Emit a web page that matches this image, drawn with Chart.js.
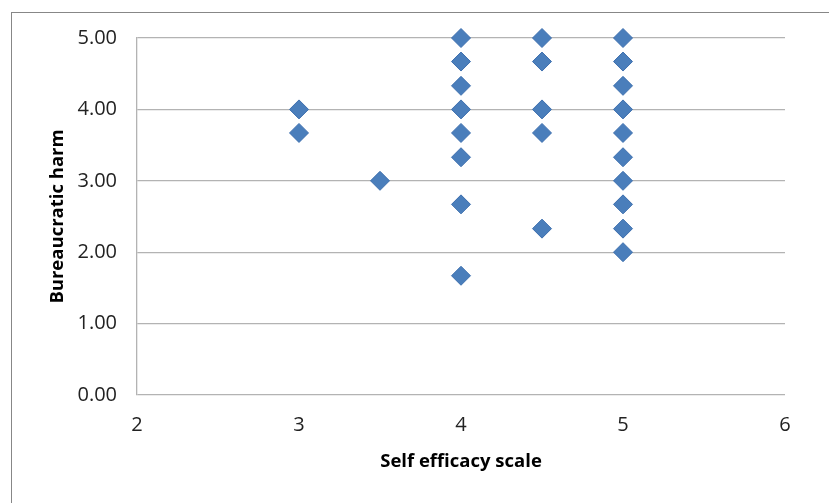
<!DOCTYPE html>
<html>
<head>
<meta charset="utf-8">
<script src="https://cdn.jsdelivr.net/npm/chart.js@4.4.0/dist/chart.umd.min.js"></script>
<style>
  html, body { margin: 0; padding: 0; background: #fff; overflow: hidden; }
  #wrap { position: relative; width: 829px; height: 503px; }
  #frame { position: absolute; left: 11px; top: 12px; width: 900px; height: 600px; border: 1px solid #878787; box-sizing: border-box; }
  canvas { position: absolute; left: 0; top: 0; }
</style>
</head>
<body>
<div id="wrap">
  <div id="frame"></div>
  <canvas id="myChart" width="829" height="503"></canvas>
</div>
<script>
// scatter values
const efficacy = [3, 3, 3.5, 4, 4, 4, 4, 4, 4, 4, 4, 4.5, 4.5, 4.5, 4.5, 4.5, 5, 5, 5, 5, 5, 5, 5, 5, 5, 5];
const harm = [4.00, 3.67, 3.00, 5.00, 4.67, 4.33, 4.00, 3.67, 3.33, 2.67, 1.67, 5.00, 4.67, 4.00, 3.67, 2.33,
  5.00, 4.67, 4.33, 4.00, 3.67, 3.33, 3.00, 2.67, 2.33, 2.00];
const xTicks = [2, 3, 4, 5, 6];
const yTicks = [0, 1, 2, 3, 4, 5];

const points = efficacy.map((x, i) => ({ x: x, y: harm[i] }));

const tickFont = { family: "Open Sans", size: 20 };
const titleFont = { family: "Open Sans", size: 18.5, weight: "bold" };

const ctx = document.getElementById("myChart");

new Chart(ctx, {
  type: "scatter",
  data: {
    datasets: [
      {
        label: "Bureaucratic harm",
        data: points,
        clip: false,
        pointStyle: "rectRot",
        pointRadius: 9.5,
        pointHoverRadius: 9.5,
        backgroundColor: "#4a7ebb",
        borderColor: "#3d6fae",
        borderWidth: 1,
      },
    ],
  },
  options: {
    responsive: false,
    animation: false,
    layout: { padding: { left: 0, right: 44, top: 38, bottom: 0 } },
    plugins: { legend: { display: false }, tooltip: { enabled: false } },
    scales: {
      x: {
        type: "linear",
        min: 2,
        max: 6,
        afterBuildTicks: (axis) => { axis.ticks = xTicks.map(v => ({ value: v })); },
        afterFit: (axis) => { axis.height = 108; },
        grid: { display: false, drawTicks: false },
        border: { display: false },
        ticks: { color: "#222", font: tickFont, padding: 18 },
        title: { display: true, text: "Self efficacy scale", color: "#000", font: titleFont, padding: { top: 0, bottom: 30 } },
      },
      y: {
        min: 0,
        max: 5,
        afterBuildTicks: (axis) => { axis.ticks = yTicks.map(v => ({ value: v })); },
        afterFit: (axis) => { axis.width = 137; },
        grid: { color: "#b3b3b3", lineWidth: 1.3, drawTicks: false },
        border: { display: true, color: "#b3b3b3", width: 1.3 },
        ticks: { color: "#222", font: tickFont, padding: 20, callback: (v) => v.toFixed(2) },
        title: { display: true, text: "Bureaucratic harm", color: "#000", font: titleFont, padding: { top: 47, bottom: 0 } },
      },
    },
  },
});
</script>
</body>
</html>
